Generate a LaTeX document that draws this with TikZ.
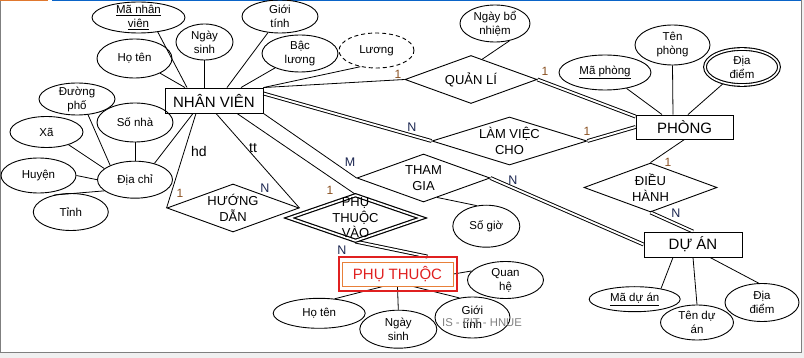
\documentclass[tikz,border=0pt]{standalone}
\usepackage{fontspec}
\setmainfont{Liberation Sans}
\usetikzlibrary{shapes.geometric,backgrounds}

\definecolor{onecol}{HTML}{8A5020}
\definecolor{manycol}{HTML}{1A2550}
\definecolor{weakred}{HTML}{E02020}
\definecolor{weakorange}{HTML}{E8803A}
\definecolor{framegray}{HTML}{7F7F7F}
\definecolor{pagegray}{HTML}{F0F0F0}
\definecolor{topblue}{HTML}{0A64C8}
\definecolor{toporange}{HTML}{E0782E}
\definecolor{markgray}{HTML}{808080}

\begin{document}
\begin{tikzpicture}[x=1pt, y=-1pt,
  conn/.style={draw, line width=0.8pt},
  dconn/.style={draw, line width=0.95pt, double, double distance=1.9pt},
  entity/.style={draw, line width=0.9pt, inner sep=0pt, font=\fontsize{15}{18}\selectfont},
  rel/.style={diamond, draw, line width=0.9pt, inner sep=0pt},
  reltext/.style={font=\fontsize{13}{15.5}\selectfont, align=center, inner sep=0pt},
  attr/.style={ellipse, draw, line width=0.9pt, inner sep=0pt},
  atext/.style={font=\fontsize{11.5}{14}\selectfont, align=center, inner sep=0pt},
  onelab/.style={text=onecol, font=\fontsize{12}{14}\selectfont, inner sep=0pt},
  manylab/.style={text=manycol, font=\fontsize{12.5}{14}\selectfont, inner sep=0pt},
  rolelab/.style={font=\fontsize{14}{16}\selectfont, inner sep=0pt},
]
\useasboundingbox (0,0) rectangle (804,358);

% page frame
\fill[pagegray] (0,353) rectangle (804,358);
\fill[pagegray] (801.5,0) rectangle (804,358);
\draw[framegray, line width=1pt] (0.5,1) -- (0.5,353) -- (801,353) -- (801,0);
\draw[toporange, line width=1.2pt] (0,0.6) -- (48,0.6);
\draw[topblue, line width=1.4pt] (52,0.7) -- (801,0.7);

% entities
\node[entity, minimum width=98pt, minimum height=25pt] (nv) at (214,100.5) {NHÂN VIÊN};
\node[entity, minimum width=97pt, minimum height=24pt] (phong) at (684.5,127) {PHÒNG};
\node[entity, minimum width=98pt, minimum height=25pt] (duan) at (693,244.5) {DỰ ÁN};
\node[draw=weakred, line width=1.1pt, inner sep=0pt, minimum width=118pt, minimum height=34pt] (ptOuter) at (398,274) {};
\node[entity, draw=weakorange, text=weakred, minimum width=111pt, minimum height=24pt] (pt) at (397.5,274) {PHỤ THUỘC};

% relationships
\node[rel, minimum width=132pt, minimum height=48pt, label={[reltext, name=qlT]center:QUẢN LÍ}] (ql) at (471,79.5) {};
\node[rel, minimum width=155pt, minimum height=48pt, label={[reltext, name=lvcT]center:LÀM VIỆC\\CHO}] (lvc) at (509.5,141) {};
\node[rel, minimum width=133pt, minimum height=48pt, label={[reltext, name=tgT]center:THAM\\GIA}] (tg) at (423.5,178) {};
\node[rel, minimum width=133pt, minimum height=49pt, label={[reltext, name=dhT]center:ĐIỀU\\HÀNH}] (dh) at (650.5,187.5) {};
\node[rel, minimum width=132pt, minimum height=48pt, label={[reltext, name=hdT]center:HƯỚNG\\DẪN}] (hd) at (233,208) {};
\node[rel, line width=1.2pt, double, double distance=1.8pt, minimum width=133pt, minimum height=46pt, label={[reltext, name=ptvT]center:PHỤ\\THUỘC\\VÀO}] (ptv) at (355.5,218) {};

% attributes of NHÂN VIÊN
\node[attr, minimum width=93pt, minimum height=31pt, label={[atext, name=mnvT]center:\underline{Mã nhân}\\\underline{viên}}] (mnv) at (138.5,17.5) {};
\node[attr, minimum width=57pt, minimum height=36pt, label={[atext, name=nsT]center:Ngày\\sinh}] (ns) at (204.5,42) {};
\node[attr, minimum width=75pt, minimum height=39pt, label={[atext, name=hotenT]center:Họ tên}] (hoten) at (134.5,58.5) {};
\node[attr, minimum width=76pt, minimum height=33pt, label={[atext, name=gtT]center:Giới\\tính}] (gt) at (280,16.5) {};
\node[attr, minimum width=76pt, minimum height=37pt, label={[atext, name=blT]center:Bậc\\lương}] (bl) at (300,53.5) {};
\node[attr, dashed, dash pattern=on 4pt off 3pt, minimum width=75pt, minimum height=35pt, label={[atext, name=luongT]center:Lương}] (luong) at (376.5,50.5) {};
\node[attr, minimum width=76pt, minimum height=32pt, label={[atext, name=dpT]center:Đường\\phố}] (dp) at (77,99) {};
\node[attr, minimum width=76pt, minimum height=39pt, label={[atext, name=sonhaT]center:Số nhà}] (sonha) at (135,122.5) {};
\node[attr, minimum width=73pt, minimum height=31pt, label={[atext, name=xaT]center:Xã}] (xa) at (46.5,132) {};
\node[attr, minimum width=75pt, minimum height=35pt, label={[atext, name=huyenT]center:Huyện}] (huyen) at (38.5,175.5) {};
\node[attr, minimum width=75pt, minimum height=37pt, label={[atext, name=tinhT]center:Tỉnh}] (tinh) at (70.8,212) {};
\node[attr, minimum width=75pt, minimum height=37pt, label={[atext, name=dcT]center:Địa chỉ}] (dc) at (135,179.7) {};

% attributes of the relationships and of PHÒNG, DỰ ÁN
\node[attr, minimum width=70pt, minimum height=37pt, label={[atext, name=nbnT]center:Ngày bổ\\nhiệm}] (nbn) at (495,23.5) {};
\node[attr, minimum width=67pt, minimum height=42pt, label={[atext, name=sogioT]center:Số giờ}] (sogio) at (486.3,226.2) {};
\node[attr, minimum width=92pt, minimum height=35pt, label={[atext, name=maphongT]center:\underline{Mã phòng}}] (maphong) at (605,72.5) {};
\node[attr, minimum width=75pt, minimum height=40pt, label={[atext, name=tenphongT]center:Tên\\phòng}] (tenphong) at (672.5,45) {};
\node[attr, line width=1.1pt, double, double distance=1.6pt, minimum width=74pt, minimum height=36pt, label={[atext, name=dd1T]center:Địa\\điểm}] (dd1) at (742,67) {};
\node[attr, minimum width=91pt, minimum height=25pt, label={[atext, name=maduT]center:\underline{Mã dự án}}] (madu) at (634.7,299.2) {};
\node[attr, minimum width=73pt, minimum height=35pt, label={[atext, name=tenduT]center:Tên dự\\án}] (tendu) at (697,322.5) {};
\node[attr, minimum width=74pt, minimum height=38pt, label={[atext, name=dd2T]center:Địa\\điểm}] (dd2) at (762,302.5) {};

% attributes of PHỤ THUỘC
\node[attr, minimum width=76pt, minimum height=37pt, label={[atext, name=quanheT]center:Quan\\hệ}] (quanhe) at (505.5,280) {};
\node[attr, minimum width=92pt, minimum height=30pt, label={[atext, name=ht2T]center:Họ tên}] (ht2) at (319.2,313.3) {};
\node[attr, minimum width=77pt, minimum height=38pt, label={[atext, name=ns2T]center:Ngày\\sinh}] (ns2) at (398.3,329.2) {};
\node[attr, minimum width=75pt, minimum height=41pt, label={[atext, name=gt2T]center:Giới\\tính}] (gt2) at (472.5,317.5) {};

% connectors
\begin{scope}[on background layer]
  \path[conn] (mnv.-37) -- ([xshift=-27pt]nv.north);
  \path[conn] (hoten) -- ([xshift=-29pt]nv.north);
  \path[conn] (ns.south) -- ([xshift=-9.5pt]nv.north);
  \path[conn] (gt) -- ([xshift=13pt]nv.north);
  \path[conn] (bl) -- ([xshift=27pt]nv.north);
  \path[conn] (luong.-135) -- (nv.north east);
  \path[conn] (nv.north east) -- (ql.west);
  \path[dconn] ([yshift=7pt]nv.east) -- (lvc.west);
  \path[conn] (nv.south east) -- (tg.west);
  \path[conn] ([xshift=23pt]nv.south) -- (ptv.north);
  \path[conn] ([xshift=2pt]nv.south) -- (hd.east);
  \path[conn] ([xshift=-18pt]nv.south) -- (hd.west);
  \path[conn] (dc.40) -- ([xshift=-21pt]nv.south);

  \path[conn] (sonha.south) -- (dc.north);
  \path[conn] (dp.-55) -- (dc.150);
  \path[conn] (xa.-30) -- (dc.160);
  \path[conn] (huyen.east) -- (dc.west);
  \path[conn] (tinh.135) -- (dc.200);

  \path[dconn] (ql.east) -- ([yshift=-2pt]phong.north west);
  \path[dconn] (lvc.east) -- (phong.west);
  \path[conn] (nbn.-50) -- (ql.61);
  \path[conn] (maphong) -- ([xshift=-22.5pt]phong.north);
  \path[conn] (tenphong.south) -- ([xshift=-11.5pt]phong.north);
  \path[conn] (dd1) -- ([xshift=3.5pt]phong.north);
  \path[conn] (phong.south) -- (dh.north);

  \path[dconn] (dh.south) -- (duan.north);
  \path[dconn] (tg.east) -- (duan.west);
  \path[conn] (tg.-55) -- (sogio.115);
  \path[conn] ([xshift=-20pt]duan.south) -- (madu.22);
  \path[conn] (duan.south) -- (tendu.north);
  \path[conn] ([xshift=17pt]duan.south) -- (dd2.100);

  \path[dconn] (ptv.south) -- ([xshift=30pt, yshift=5pt]pt.north);
  \path[conn] (pt.east) -- (quanhe.165);
  \path[conn] ([xshift=-14.5pt]pt.south) -- (ht2.43);
  \path[conn] (pt.south) -- (ns2.north);
  \path[conn] ([xshift=15.5pt]pt.south) -- (gt2.124);
\end{scope}

% cardinalities and roles
\node[onelab] (cQlNv) at (398,74) {1};
\node[onelab] (cQlPh) at (545,71) {1};
\node[manylab] (cLvNv) at (412,127) {N};
\node[onelab] (cLvPh) at (587,131) {1};
\node[manylab] (cTgNv) at (350,162) {M};
\node[manylab] (cTgDa) at (513,180) {N};
\node[onelab] (cDhPh) at (668,162) {1};
\node[manylab] (cDhDa) at (676,213) {N};
\node[onelab] (cHdA) at (180,193) {1};
\node[manylab] (cHdB) at (265,188) {N};
\node[rolelab] (rHd) at (199,151) {hd};
\node[rolelab] (rTt) at (253,148) {tt};
\node[onelab] (cPtvNv) at (330,190) {1};
\node[manylab] (cPtvPt) at (342,250) {N};

% footer mark
\node[text=markgray, font=\fontsize{11.3}{13}\selectfont, inner sep=0pt] (mark) at (482,323) {IS - FIT - HNUE};
\end{tikzpicture}
\end{document}
